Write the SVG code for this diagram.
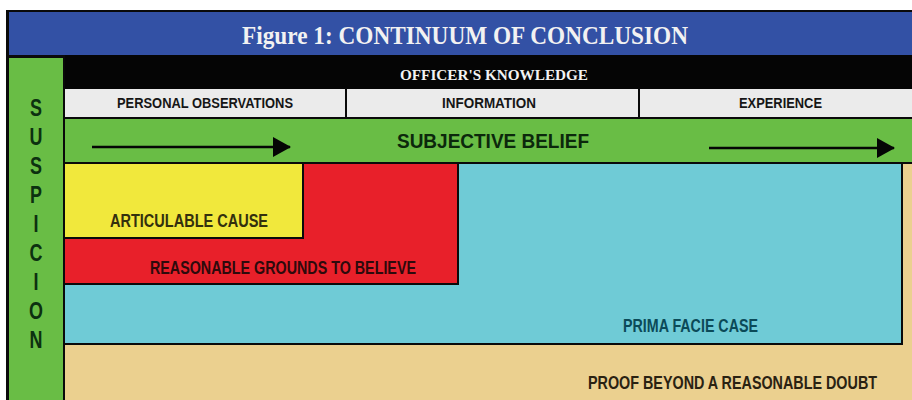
<svg xmlns="http://www.w3.org/2000/svg" width="912" height="400" viewBox="0 0 912 400">
  <defs>
    <marker id="arrowhead" viewBox="0 0 18 20" refX="17" refY="10" markerWidth="18" markerHeight="20" markerUnits="userSpaceOnUse" orient="auto">
      <path d="M0,0 L18,10 L0,20 Z" fill="#050505"/>
    </marker>
    <style>
      .title { font-family: "Liberation Serif", "Times New Roman", serif; font-weight: bold; fill: #f2f2f2; }
      .sans { font-family: "Liberation Sans", Arial, sans-serif; font-weight: bold; }
      .hdr { font-size: 14px; fill: #161616; }
      .lvl { font-size: 18px; }
      .vert { font-size: 23px; fill: #0c3010; text-anchor: middle; }
      .edge { stroke: #0a0a0a; stroke-width: 2; }
      .arrow { stroke: #050505; stroke-width: 2.5; fill: none; marker-end: url(#arrowhead); }
    </style>
  </defs>

  <rect width="912" height="400" fill="#ffffff"/>

  <!-- title banner -->
  <g id="title">
    <rect x="6" y="10" width="906" height="48" fill="#0a0a0a"/>
    <rect x="9" y="12" width="903" height="43" fill="#3351a5"/>
    <text class="title" x="242" y="44" font-size="26" textLength="446" lengthAdjust="spacingAndGlyphs">Figure 1: CONTINUUM OF CONCLUSION</text>
  </g>

  <!-- left column: SUSPICION -->
  <g id="suspicion">
    <rect x="6" y="55" width="4" height="345" fill="#0a0a0a"/>
    <rect x="9" y="58" width="55" height="342" fill="#69bd45"/>
    <g class="sans vert" transform="translate(36,0) scale(0.78,1)">
      <text x="0" y="116">S</text>
      <text x="0" y="145">U</text>
      <text x="0" y="174">S</text>
      <text x="0" y="203">P</text>
      <text x="0" y="232">I</text>
      <text x="0" y="261">C</text>
      <text x="0" y="290">I</text>
      <text x="0" y="319">O</text>
      <text x="0" y="348">N</text>
    </g>
  </g>

  <!-- officer's knowledge bar -->
  <g id="officers-knowledge">
    <rect x="63" y="55" width="849" height="34" fill="#050505"/>
    <text class="title" x="400" y="80" font-size="15" textLength="188" lengthAdjust="spacingAndGlyphs">OFFICER'S KNOWLEDGE</text>
  </g>

  <!-- knowledge sources -->
  <g id="personal-observations">
    <rect x="65" y="89" width="280" height="28" fill="#ebebeb"/>
    <text class="sans hdr" x="117" y="108" textLength="176" lengthAdjust="spacingAndGlyphs">PERSONAL OBSERVATIONS</text>
  </g>
  <g id="information">
    <rect x="347" y="89" width="291" height="28" fill="#ebebeb"/>
    <text class="sans hdr" x="442" y="108" textLength="94" lengthAdjust="spacingAndGlyphs">INFORMATION</text>
  </g>
  <g id="experience">
    <rect x="640" y="89" width="272" height="28" fill="#ebebeb"/>
    <text class="sans hdr" x="739" y="108" textLength="83" lengthAdjust="spacingAndGlyphs">EXPERIENCE</text>
  </g>

  <!-- subjective belief band -->
  <g id="subjective-belief">
    <rect x="63" y="117" width="849" height="47" fill="#0a0a0a"/>
    <rect x="65" y="119" width="847" height="43" fill="#69bd45"/>
    <text class="sans" x="397" y="148" font-size="21" fill="#0c280c" textLength="192" lengthAdjust="spacingAndGlyphs">SUBJECTIVE BELIEF</text>
  </g>

  <!-- nested levels of conclusion -->
  <g id="proof-beyond-doubt">
    <rect x="63" y="162" width="849" height="238" fill="#0a0a0a"/>
    <rect x="65" y="164" width="847" height="236" fill="#ebd08f"/>
    <text class="sans lvl" x="588" y="389" fill="#2a2212" textLength="289" lengthAdjust="spacingAndGlyphs">PROOF BEYOND A REASONABLE DOUBT</text>
  </g>
  <g id="prima-facie-case">
    <rect x="65" y="164" width="838" height="181" fill="#0a0a0a"/>
    <rect x="65" y="164" width="836" height="179" fill="#6fcbd6"/>
    <text class="sans lvl" x="623" y="332" fill="#0b4a58" textLength="135" lengthAdjust="spacingAndGlyphs">PRIMA FACIE CASE</text>
  </g>
  <g id="reasonable-grounds">
    <rect x="65" y="164" width="394" height="121" fill="#0a0a0a"/>
    <rect x="65" y="164" width="392" height="119" fill="#e8202a"/>
    <text class="sans lvl" x="150" y="274" fill="#2e0a0c" textLength="266" lengthAdjust="spacingAndGlyphs">REASONABLE GROUNDS TO BELIEVE</text>
  </g>
  <g id="articulable-cause">
    <rect x="65" y="164" width="239" height="75" fill="#0a0a0a"/>
    <rect x="65" y="164" width="237" height="73" fill="#f1e83c"/>
    <text class="sans lvl" x="110" y="227" fill="#33300e" textLength="158" lengthAdjust="spacingAndGlyphs">ARTICULABLE CAUSE</text>
  </g>

  <!-- dividers and arrows -->
  <g id="connectors">
    <line class="edge" x1="64" y1="55" x2="64" y2="400"/>
    <line class="edge" x1="346" y1="88" x2="346" y2="118"/>
    <line class="edge" x1="639" y1="88" x2="639" y2="118"/>
    <line class="arrow" x1="92" y1="147" x2="290" y2="147"/>
    <line class="arrow" x1="709" y1="148" x2="894" y2="148"/>
  </g>
</svg>
